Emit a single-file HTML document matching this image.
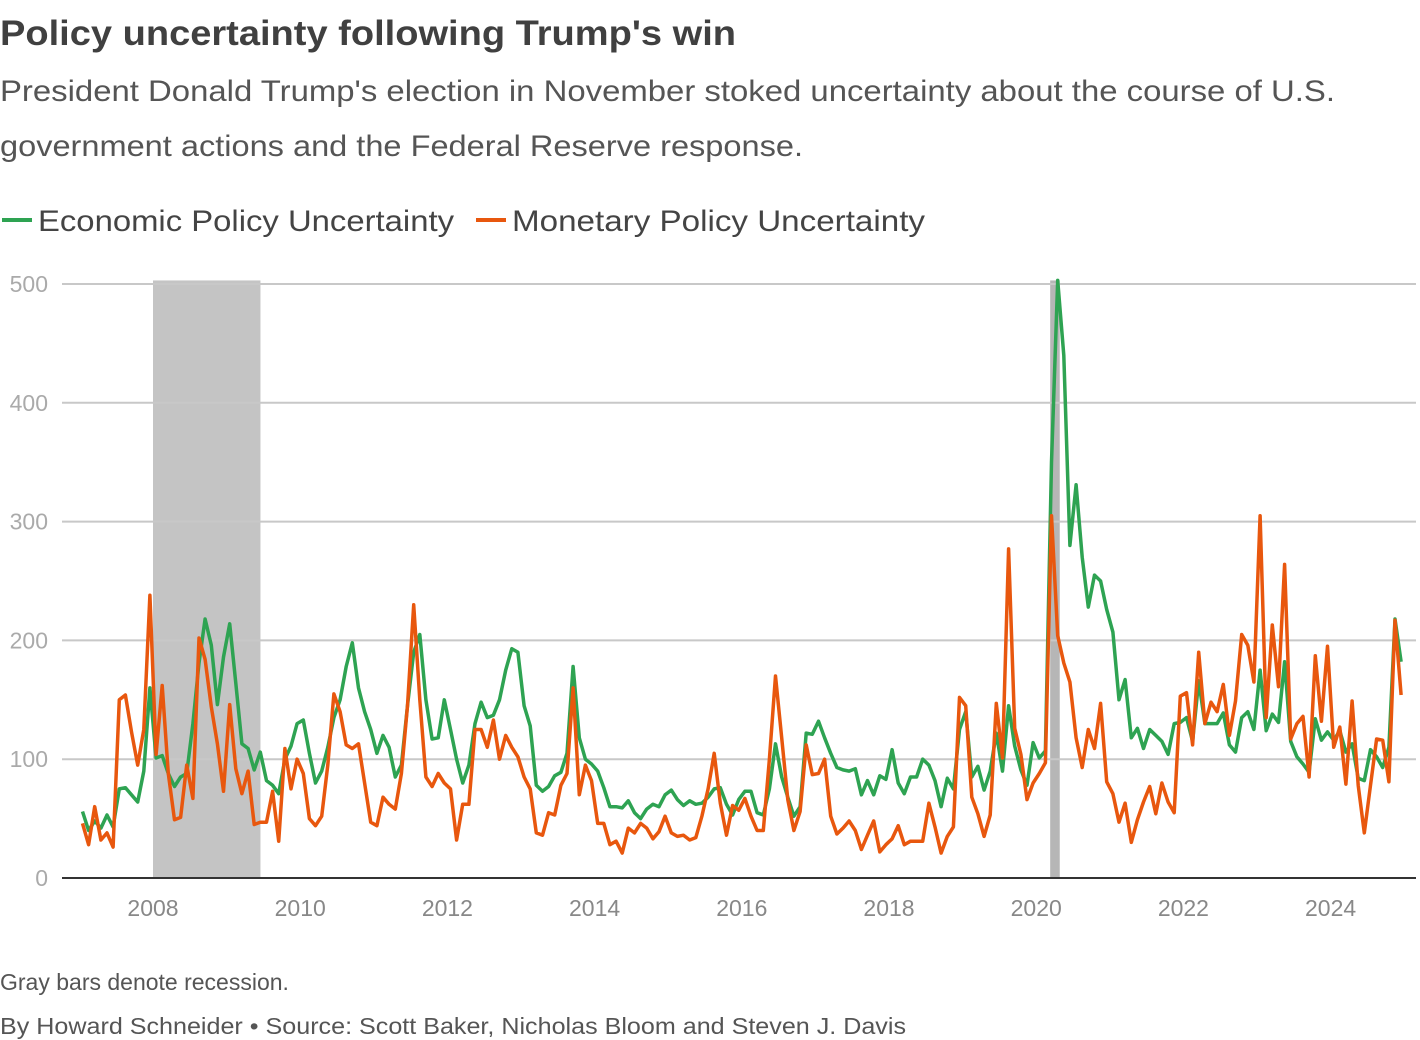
<!DOCTYPE html>
<html><head><meta charset="utf-8"><style>
html,body{margin:0;padding:0;background:#fff;}
svg{display:block;font-family:"Liberation Sans",sans-serif;}
</style></head><body>
<svg id="chart" width="1420" height="1040" viewBox="0 0 1420 1040">
<text x="0" y="45" font-size="35" font-weight="bold" fill="#404040" textLength="736" lengthAdjust="spacingAndGlyphs">Policy uncertainty following Trump's win</text>
<text x="0" y="101" font-size="30" fill="#555" textLength="1335" lengthAdjust="spacingAndGlyphs">President Donald Trump's election in November stoked uncertainty about the course of U.S.</text>
<text x="0" y="156" font-size="30" fill="#555" textLength="803" lengthAdjust="spacingAndGlyphs">government actions and the Federal Reserve response.</text>
<g>
<line x1="2" y1="220" x2="32" y2="220" stroke="#2ea352" stroke-width="4"/>
<text x="38" y="231" font-size="30" fill="#444" textLength="416" lengthAdjust="spacingAndGlyphs">Economic Policy Uncertainty</text>
<line x1="476" y1="220" x2="506" y2="220" stroke="#e8570e" stroke-width="4"/>
<text x="512" y="231" font-size="30" fill="#444" textLength="413" lengthAdjust="spacingAndGlyphs">Monetary Policy Uncertainty</text>
</g>
<g id="plot"></g>
<text x="0" y="990" font-size="23" fill="#555">Gray bars denote recession.</text>
<text x="0" y="1034" font-size="23" fill="#555" textLength="906" lengthAdjust="spacingAndGlyphs">By Howard Schneider • Source: Scott Baker, Nicholas Bloom and Steven J. Davis</text>
</svg>
<script>
const startYear = 2007;
const yTicks = [0, 100, 200, 300, 400, 500];
const xTicks = [2008, 2010, 2012, 2014, 2016, 2018, 2020, 2022, 2024];
const recessions = [[2008.0, 2009.46], [2020.19, 2020.32]];
const epu = [56,40,48,42,53,43,75,76,70,64,90,
160,101,103,88,77,85,88,130,181,218,196,146,
186,214,164,113,109,91,106,82,78,71,100,111,
130,133,105,80,90,110,135,150,178,198,160,140,
125,105,120,110,85,95,145,190,205,150,117,118,
150,125,100,80,95,130,148,135,137,150,175,193,
190,145,128,78,73,77,86,89,105,178,118,100,
96,90,76,60,60,59,65,55,50,58,62,60,
70,74,66,61,65,62,63,68,75,76,62,53,
66,73,73,55,53,75,113,85,68,52,60,122,
121,132,118,105,93,91,90,92,70,82,70,86,
83,108,80,71,85,85,100,95,82,60,84,75,
125,140,85,94,74,90,122,90,145,111,91,78,
114,101,107,350,503,440,280,331,270,228,255,250,
226,207,150,167,118,126,109,125,120,115,104,130,
131,135,115,166,130,130,130,139,112,106,135,140,
125,175,124,138,131,182,115,102,96,89,134,116,
123,116,124,106,113,84,82,108,102,93,110,218,182];
const mpu = [46,28,60,32,38,26,150,154,123,95,125,
238,104,162,88,49,51,95,67,202,184,144,113,
73,146,92,71,90,45,47,47,73,31,109,75,
100,88,50,44,52,95,155,140,112,109,113,80,
47,44,68,62,58,88,145,230,150,85,77,88,
80,75,32,62,62,125,125,110,133,100,120,110,
102,85,75,38,36,55,53,78,88,160,70,95,
82,46,46,28,31,21,42,38,46,42,33,39,
52,38,35,36,32,34,52,75,105,63,36,61,
57,67,52,40,40,100,170,118,66,40,56,112,
87,88,100,52,37,42,48,40,24,36,48,22,
28,33,44,28,31,31,31,63,43,21,35,43,
152,145,68,54,35,53,147,101,277,126,104,66,
80,88,97,305,204,181,165,118,93,125,109,147,
81,71,47,63,30,49,64,77,54,80,64,55,
153,156,112,190,130,148,140,163,120,149,205,196,
165,305,135,213,161,264,117,130,136,85,187,132,
195,110,127,79,149,78,38,78,117,116,81,217,154];

const NS = "http://www.w3.org/2000/svg";
const plot = document.getElementById('plot');
const X2008 = 153, PX_PER_YEAR = 73.6;
function xYear(y){ return X2008 + (y - 2008) * PX_PER_YEAR; }
function xIdx(i){ return xYear(startYear + (i + 0.5) / 12); }
function yVal(v){ return 878 - v * 1.188; }
function mk(tag, attrs){ const e = document.createElementNS(NS, tag); for (const k in attrs) e.setAttribute(k, attrs[k]); plot.appendChild(e); return e; }

recessions.forEach((r, k) => {
  const e = mk('rect', {x: xYear(r[0]), y: yVal(503), width: xYear(r[1]) - xYear(r[0]), height: yVal(0) - yVal(503), fill: k === 0 ? '#c4c4c4' : '#b6b6b6'});
  
  
});
yTicks.forEach(t => {
  if (t > 0) {
    const g = mk('line', {x1: 62, x2: 1416, y1: yVal(t), y2: yVal(t), stroke: '#c8c8c8', 'stroke-width': 2});
    
    
  }
  const l = mk('text', {x: 48, y: yVal(t) + 8, 'text-anchor': 'end', 'font-size': 23, fill: '#aaa'});
  l.textContent = t;
  
  
});
xTicks.forEach(t => {
  const l = mk('text', {x: xYear(t), y: 916, 'text-anchor': 'middle', 'font-size': 23, fill: '#888'});
  l.textContent = t;
  
  
});
function line(arr, color, name){
  const d = arr.map((v, i) => (i ? 'L' : 'M') + xIdx(i).toFixed(1) + ' ' + yVal(v).toFixed(1)).join(' ');
  const p = mk('path', {d: d, fill: 'none', stroke: color, 'stroke-width': 3.5, 'stroke-linejoin': 'round'});
  
  
}
line(epu, '#2ea352', 'epu-line');
line(mpu, '#e8570e', 'mpu-line');
const ax = mk('line', {x1: 62, x2: 1416, y1: 878, y2: 878, stroke: '#333', 'stroke-width': 2});


</script>
</body></html>
